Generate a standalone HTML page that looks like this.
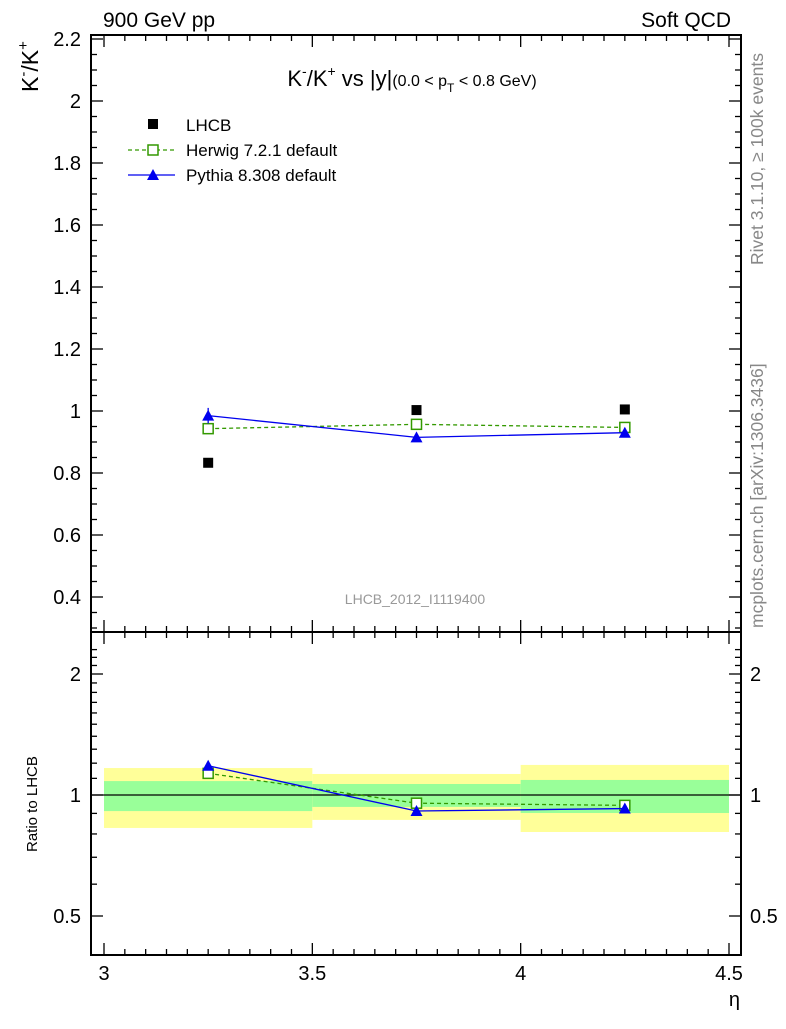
<!DOCTYPE html>
<html><head><meta charset="utf-8"><style>
body{margin:0;background:#fff;}
svg text{font-family:"Liberation Sans",sans-serif;}
</style></head><body>
<svg id="c" width="786" height="1024" xmlns="http://www.w3.org/2000/svg"></svg>
<script>
const categories=[3.25,3.75,4.25];
const binEdges=[3.0,3.5,4.0,4.5];
const lhcbValues=[0.833,1.003,1.005];
const herwigValues=[0.943,0.957,0.947];
const herwigErr=[0.015,0.012,0.012];
const pythiaValues=[0.985,0.915,0.930];
const pythiaErr=[0.025,0.012,0.015];
const bandInnerHi=[1.083,1.065,1.09];
const bandInnerLo=[0.912,0.934,0.902];
const bandOuterHi=[1.167,1.128,1.188];
const bandOuterLo=[0.828,0.867,0.809];
const xTicks=[3,3.5,4,4.5];
const yTicks=[0.4,0.6,0.8,1,1.2,1.4,1.6,1.8,2,2.2];
const rTicks=[0.5,1,2];

const svg=document.getElementById('c');
const NS='http://www.w3.org/2000/svg';
function el(t,a,p){const e=document.createElementNS(NS,t);for(const k in a)e.setAttribute(k,a[k]);(p||svg).appendChild(e);return e;}
const L=91,R=741,T=35,M=632,B=955;
const X=v=>104+(v-3)*(625/1.5);
const Y=v=>411-(v-1)*310;
const RY=v=>795-Math.log2(v)*121;

for(let i=0;i<3;i++){
 let r=el('rect',{x:X(binEdges[i]),y:RY(bandOuterHi[i]),width:X(binEdges[i+1])-X(binEdges[i]),height:RY(bandOuterLo[i])-RY(bandOuterHi[i]),fill:'#ffff99'});
 
 
 let g=el('rect',{x:X(binEdges[i]),y:RY(bandInnerHi[i]),width:X(binEdges[i+1])-X(binEdges[i]),height:RY(bandInnerLo[i])-RY(bandInnerHi[i]),fill:'#99ff99'});
 
 
}
el('line',{x1:L,x2:R,y1:RY(1),y2:RY(1),stroke:'#000','stroke-width':1.3});

el('rect',{x:L,y:T,width:R-L,height:M-T,fill:'none',stroke:'#000','stroke-width':2});
el('rect',{x:L,y:M,width:R-L,height:B-M,fill:'none',stroke:'#000','stroke-width':2});

for(let v=3;v<=4.5001;v+=0.05){
 const maj=Math.abs(v*2-Math.round(v*2))<1e-6;const len=maj?12:6;const x=X(v);
 for(const [y0,d] of [[T,1],[M,-1],[M,1],[B,-1]]) el('line',{x1:x,x2:x,y1:y0,y2:y0+d*len,stroke:'#000','stroke-width':1.3});
}
xTicks.forEach(v=>{const t=el('text',{x:X(v),y:980,'font-size':20,'text-anchor':'middle'});t.textContent=v;
 
 });
for(let v=0.3;v<=2.2001;v+=0.05){const maj=Math.abs(v*5-Math.round(v*5))<1e-6;const len=maj?12:6;const y=Y(v);if(y<T||y>M)continue;
 el('line',{x1:L,x2:L+len,y1:y,y2:y,stroke:'#000','stroke-width':1.3});el('line',{x1:R,x2:R-len,y1:y,y2:y,stroke:'#000','stroke-width':1.3});}
yTicks.forEach(v=>{const t=el('text',{x:81,y:Y(v)+7,'font-size':20,'text-anchor':'end'});t.textContent=(Math.round(v*10)/10).toString();
 
 });
for(let v=0.4;v<=2.4;v+=0.1){const y=RY(v);if(y<M||y>B)continue;const maj=rTicks.some(r=>Math.abs(r-v)<1e-6);const len=maj?12:6;
 el('line',{x1:L,x2:L+len,y1:y,y2:y,stroke:'#000','stroke-width':1.3});el('line',{x1:R,x2:R-len,y1:y,y2:y,stroke:'#000','stroke-width':1.3});}
rTicks.forEach(v=>{for(const [x,a] of [[81,'end'],[750,'start']]){const t=el('text',{x:x,y:RY(v)+7,'font-size':20,'text-anchor':a});t.textContent=v;
 
 }});

function series(vals,errs,color,dash,marker,yf,name){
 const pts=categories.map((c,i)=>X(c)+','+yf(vals[i])).join(' ');
 const pl=el('polyline',{points:pts,fill:'none',stroke:color,'stroke-width':1.3,'stroke-dasharray':dash});
 
 
 categories.forEach((c,i)=>{const x=X(c),y=yf(vals[i]);
  if(errs){el('line',{x1:x,x2:x,y1:yf(vals[i]-errs[i]),y2:yf(vals[i]+errs[i]),stroke:color,'stroke-width':1.3});}
  let m;
  if(marker==='sq')m=el('rect',{x:x-5,y:y-5,width:10,height:10,fill:'#fff',stroke:color,'stroke-width':1.5});
  else m=el('polygon',{points:`${x},${y-6} ${x-6},${y+5} ${x+6},${y+5}`,fill:color});
  
  });
}
series(herwigValues,herwigErr,'#339900','4,3','sq',Y,'herwig');
series(pythiaValues,pythiaErr,'#0000ee','none','tri',Y,'pythia');
categories.forEach((c,i)=>{const m=el('rect',{x:X(c)-5,y:Y(lhcbValues[i])-5,width:10,height:10,fill:'#000'});
 
 });
const hr=herwigValues.map((v,i)=>v/lhcbValues[i]), pr=pythiaValues.map((v,i)=>v/lhcbValues[i]);
series(hr,null,'#339900','4,3','sq',RY,'herwig-ratio');
series(pr,pythiaErr.map((e,i)=>e/lhcbValues[i]),'#0000ee','none','tri',RY,'pythia-ratio');

function txt(x,y,s,attrs,name){const t=el('text',Object.assign({x:x,y:y},attrs));t.innerHTML=s;return t;}
txt(103,27,'900 GeV pp',{'font-size':21},'top-left-label');
txt(731,27,'Soft QCD',{'font-size':21,'text-anchor':'end'},'top-right-label');
txt(412,86,'K<tspan font-size="14" dy="-10">-</tspan><tspan dy="10">/K</tspan><tspan font-size="14" dy="-10">+</tspan><tspan dy="10"> vs |y|</tspan><tspan font-size="16">(0.0 &lt; p</tspan><tspan font-size="12" dy="6">T</tspan><tspan font-size="16" dy="-6"> &lt; 0.8 GeV)</tspan>',{'font-size':22,'text-anchor':'middle'},'plot-title');
txt(0,0,'K<tspan font-size="15" dy="-10">-</tspan><tspan dy="10">/K</tspan><tspan font-size="15" dy="-10">+</tspan>',{'font-size':23,transform:'translate(38,92) rotate(-90)'},'y-axis-title');
txt(0,0,'Ratio to LHCB',{'font-size':15,transform:'translate(37,852) rotate(-90)'},'ratio-axis-title');
txt(740,1006,'η',{'font-size':20,'text-anchor':'end'},'x-axis-title');
txt(0,0,'Rivet 3.1.10, ≥ 100k events',{'font-size':17.5,fill:'#888',transform:'translate(763,265) rotate(-90)'},'rivet-label');
txt(0,0,'mcplots.cern.ch [arXiv:1306.3436]',{'font-size':17.5,fill:'#888',transform:'translate(763,628) rotate(-90)'},'mcplots-label');
txt(415,604,'LHCB_2012_I1119400',{'font-size':14,fill:'#999','text-anchor':'middle'},'analysis-label');
el('rect',{x:148,y:119,width:10,height:10,fill:'#000'});
txt(186,131,'LHCB',{'font-size':17},'legend-lhcb');
el('line',{x1:128,x2:175,y1:150,y2:150,stroke:'#339900','stroke-width':1.3,'stroke-dasharray':'4,3'});
el('rect',{x:148,y:145,width:10,height:10,fill:'#fff',stroke:'#339900','stroke-width':1.5});
txt(186,156,'Herwig 7.2.1 default',{'font-size':17},'legend-herwig');
el('line',{x1:128,x2:175,y1:175,y2:175,stroke:'#0000ee','stroke-width':1.3});
el('polygon',{points:'153,169 147,180 159,180',fill:'#0000ee'});
txt(186,181,'Pythia 8.308 default',{'font-size':17},'legend-pythia');
</script>
</body></html>
